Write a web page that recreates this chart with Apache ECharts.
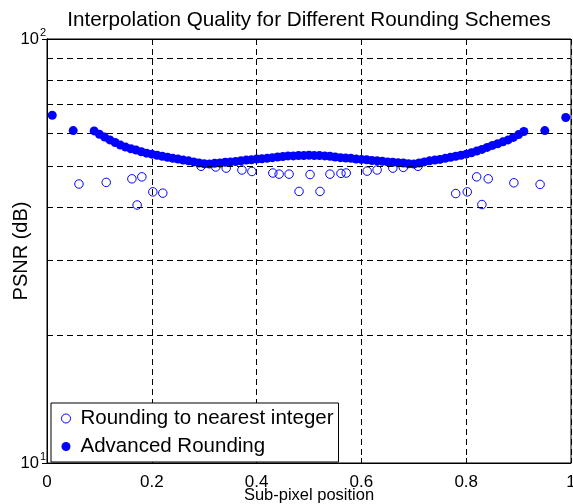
<!DOCTYPE html>
<html>
<head>
<meta charset="utf-8">
<script src="https://cdn.jsdelivr.net/npm/echarts@6/dist/echarts.min.js"></script>
<style>
html,body{margin:0;padding:0;background:#fff;}
#c{width:573px;height:504px;}
</style>
</head>
<body>
<div id="c"></div>
<script>
// ---- data ----
var titleText = 'Interpolation Quality for Different Rounding Schemes';
var xName = 'Sub-pixel position';
var yName = 'PSNR (dB)';
var seriesNames = ['Rounding to nearest integer', 'Advanced Rounding'];
var xTicks = [0, 0.2, 0.4, 0.6, 0.8, 1];
var yGridValues = [20, 30, 40, 50, 60, 70, 80, 90];

var roundX = [0.061, 0.113, 0.162, 0.172, 0.181, 0.202, 0.221, 0.294, 0.322, 0.342, 0.372, 0.391,
  0.431, 0.443, 0.462, 0.481, 0.502, 0.521, 0.540, 0.561, 0.571, 0.611, 0.630, 0.660, 0.680,
  0.708, 0.780, 0.802, 0.820, 0.830, 0.842, 0.891, 0.941];
var roundPsnr = [45.5, 45.9, 46.8, 40.6, 47.3, 43.6, 43.3, 50.1, 49.9, 49.6, 49.1, 48.7,
  48.3, 48.0, 48.0, 43.7, 47.9, 43.7, 48.0, 48.2, 48.3, 48.8, 49.1, 49.6, 49.8,
  50.1, 43.2, 43.6, 47.3, 40.7, 46.8, 45.8, 45.4];

var advX = [0.01, 0.05,
  0.09, 0.10, 0.11, 0.12, 0.13, 0.14, 0.15, 0.16, 0.17, 0.18, 0.19,
  0.20, 0.21, 0.22, 0.23, 0.24, 0.25, 0.26, 0.27, 0.28, 0.29,
  0.30, 0.31, 0.32, 0.33, 0.34, 0.35, 0.36, 0.37, 0.38, 0.39,
  0.40, 0.41, 0.42, 0.43, 0.44, 0.45, 0.46, 0.47, 0.48, 0.49,
  0.50, 0.51, 0.52, 0.53, 0.54, 0.55, 0.56, 0.57, 0.58, 0.59,
  0.60, 0.61, 0.62, 0.63, 0.64, 0.65, 0.66, 0.67, 0.68, 0.69,
  0.70, 0.71, 0.72, 0.73, 0.74, 0.75, 0.76, 0.77, 0.78, 0.79,
  0.80, 0.81, 0.82, 0.83, 0.84, 0.85, 0.86, 0.87, 0.88, 0.89,
  0.90, 0.91,
  0.95, 0.99];
var advPsnr = [66.1, 60.8,
  60.7, 59.6, 58.7, 57.8, 57.0, 56.2, 55.6, 55.1, 54.7, 54.2, 53.8,
  53.5, 53.2, 52.9, 52.6, 52.3, 52.1, 51.8, 51.6, 51.3, 51.0,
  50.8, 50.7, 50.9, 51.0, 51.2, 51.3, 51.4, 51.6, 51.8, 51.9,
  52.1, 52.2, 52.3, 52.5, 52.7, 52.8, 53.0, 53.0, 53.1, 53.1,
  53.2, 53.1, 53.1, 53.0, 52.9, 52.7, 52.5, 52.4, 52.3, 52.1,
  52.0, 51.9, 51.7, 51.6, 51.5, 51.3, 51.2, 51.1, 51.0, 50.8,
  50.7, 51.0, 51.3, 51.6, 51.8, 52.0, 52.3, 52.6, 52.9, 53.2,
  53.5, 53.9, 54.4, 54.9, 55.5, 56.1, 56.6, 57.2, 57.8, 58.6,
  59.5, 60.5,
  60.8, 65.3];

// ---- build ----
var FONT = 'Liberation Sans, Arial, Helvetica, sans-serif';
function pairs(xs, ys) { return xs.map(function (x, i) { return [x, ys[i]]; }); }

var chart = echarts.init(document.getElementById('c'), null, { renderer: 'canvas' });
var dash = [6, 4];
var option = {
  animation: false,
  backgroundColor: '#fff',
  textStyle: { fontFamily: FONT },
  title: {
    text: titleText,
    left: 304, top: 5, textAlign: 'center',
    textStyle: { fontFamily: FONT, fontSize: 20.7, fontWeight: 'normal', color: '#000' }
  },
  grid: { left: 47, right: 2, top: 39, bottom: 41, show: true, borderColor: '#000', borderWidth: 1,
    backgroundColor: 'transparent', containLabel: false, outerBoundsMode: 'none' },
  legend: {
    left: 51, top: 403, orient: 'vertical',
    backgroundColor: '#fff', borderColor: '#000', borderWidth: 1,
    padding: [5, 5, 5, 10], itemGap: 7, itemWidth: 9, itemHeight: 9,
    textStyle: { fontFamily: FONT, fontSize: 20.5, color: '#000', padding: [0, 0, 0, 5] },
    data: [
      { name: seriesNames[0], icon: 'circle', itemStyle: { color: '#fff', borderColor: '#0000ff', borderWidth: 1 } },
      { name: seriesNames[1], icon: 'circle', itemStyle: { color: '#0000ff' } }
    ]
  },
  xAxis: [{
    type: 'value', min: 0, max: 1, interval: 0.2, position: 'bottom',
    axisLine: { show: true, lineStyle: { color: '#000', width: 1 } },
    axisTick: { show: true, inside: true, length: 5, lineStyle: { color: '#000' } },
    axisLabel: { color: '#000', fontSize: 17, fontFamily: FONT, margin: 11,
      formatter: function (v) { for (var i = 0; i < xTicks.length; i++) if (Math.abs(v - xTicks[i]) < 1e-9) return String(xTicks[i]); return ''; } },
    splitLine: { show: true, lineStyle: { color: '#000', type: dash, width: 1 } },
    name: xName, nameLocation: 'middle', nameGap: 24, nameMoveOverlap: false,
    nameTextStyle: { fontSize: 16.5, fontFamily: FONT, color: '#000', verticalAlign: 'top' }
  }, {
    type: 'value', min: 0, max: 1, interval: 0.2, position: 'top',
    axisLine: { show: true, lineStyle: { color: '#000' } },
    axisTick: { show: true, inside: true, length: 5, lineStyle: { color: '#000' } },
    axisLabel: { show: false }, splitLine: { show: false }
  }],
  yAxis: [{
    type: 'log', logBase: 10, min: 10, max: 100, position: 'left',
    axisLine: { show: true, lineStyle: { color: '#000' } },
    axisTick: { show: true, inside: true, length: 5, lineStyle: { color: '#000' } },
    axisLabel: { color: '#000', fontFamily: FONT, margin: 1,
      formatter: function (v) {
        if (Math.abs(v - 100) < 1e-6) return '{b|10}{s|2}';
        if (Math.abs(v - 10) < 1e-6) return '{b|10}{s|1}';
        return '';
      },
      rich: {
        b: { fontSize: 16.5, fontFamily: FONT, color: '#000', verticalAlign: 'middle', lineHeight: 24 },
        s: { fontSize: 11, fontFamily: FONT, color: '#000', verticalAlign: 'top', lineHeight: 11, padding: [0, 0, 0, 1] }
      }
    },
    splitLine: { show: false },
    name: yName, nameLocation: 'middle', nameGap: 16, nameRotate: 90, nameMoveOverlap: false,
    nameTextStyle: { fontSize: 20, fontFamily: FONT, color: '#000', lineHeight: 20 }
  }, {
    type: 'log', logBase: 10, min: 10, max: 100, position: 'right',
    axisLine: { show: true, lineStyle: { color: '#000' } },
    axisTick: { show: true, inside: true, length: 5, lineStyle: { color: '#000' } },
    axisLabel: { show: false }, splitLine: { show: false }
  }],
  series: [{
    name: '_grid', type: 'scatter', data: [], z: 1, silent: true,
    markLine: {
      silent: true, symbol: ['none', 'none'], label: { show: false },
      lineStyle: { color: '#000', type: dash, width: 1 },
      data: yGridValues.map(function (v) { return { yAxis: v }; })
    }
  }, {
    name: seriesNames[0], type: 'scatter', symbol: 'circle', symbolSize: 8.5,
    itemStyle: { color: 'rgba(255,255,255,0)', borderColor: '#0000ff', borderWidth: 1, opacity: 1 },
    data: pairs(roundX, roundPsnr), z: 3
  }, {
    name: seriesNames[1], type: 'scatter', symbol: 'circle', symbolSize: 9,
    itemStyle: { color: '#0000ff', opacity: 1 },
    data: pairs(advX, advPsnr), z: 4
  }]
};
chart.setOption(option);
</script>
</body>
</html>
